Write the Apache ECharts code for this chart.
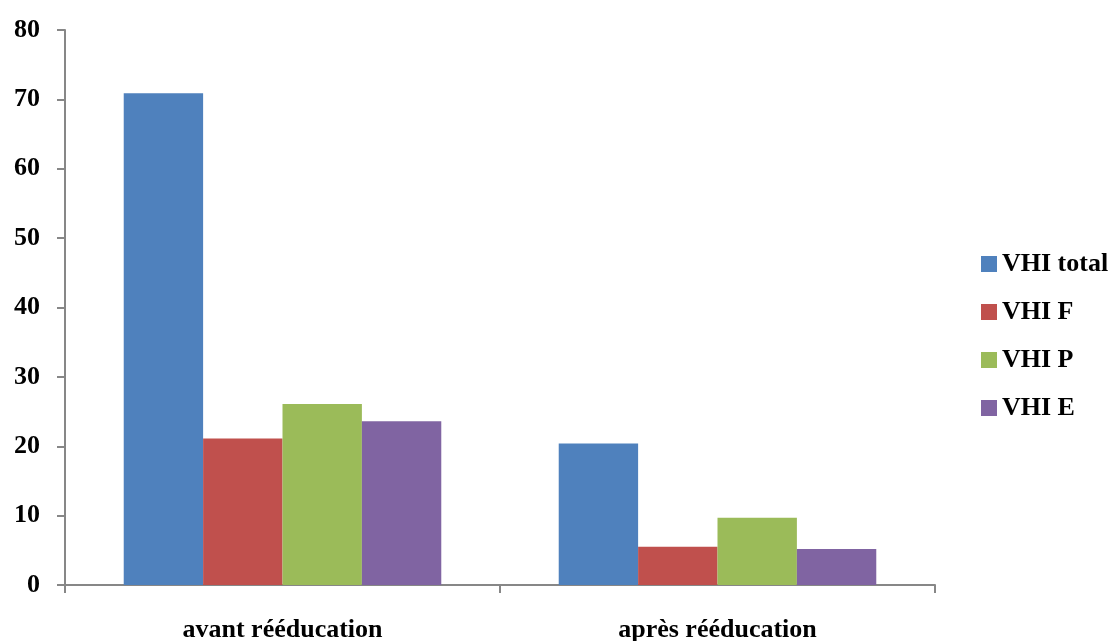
<!DOCTYPE html>
<html>
<head>
<meta charset="utf-8">
<script src="https://cdn.jsdelivr.net/npm/echarts@6/dist/echarts.min.js"></script>
<style>
  html, body { margin: 0; padding: 0; background: #fff; }
  #chart { width: 1112px; height: 641px; }
</style>
</head>
<body>
<div id="chart"></div>
<script>
  const categories = ['avant rééducation', 'après rééducation'];
  const vhiTotal = [70.9, 20.4];
  const vhiF = [21.1, 5.5];
  const vhiP = [26.1, 9.7];
  const vhiE = [23.6, 5.2];
  const yTicks = [0, 10, 20, 30, 40, 50, 60, 70, 80];

  const font = '"Liberation Serif", "DejaVu Serif", serif';
  const axisColor = '#878787';

  function bar(name, data, color) {
    return {
      name: name,
      type: 'bar',
      data: data,
      barGap: '0%',
      barCategoryGap: '27%',
      itemStyle: { color: color },
      animation: false
    };
  }

  const chart = echarts.init(document.getElementById('chart'));
  chart.setOption({
    animation: false,
    grid: { left: 65, right: 177, top: 30, bottom: 56, outerBoundsMode: 'none' },
    legend: {
      orient: 'vertical',
      left: 976,
      top: 246,
      itemWidth: 16,
      itemHeight: 16,
      itemGap: 22,
      icon: 'rect',
      textStyle: { fontFamily: font, fontWeight: 'bold', fontSize: 26, color: '#000' }
    },
    xAxis: {
      type: 'category',
      data: categories,
      axisLine: { lineStyle: { color: axisColor, width: 2 } },
      axisTick: { show: true, length: 8, lineStyle: { color: axisColor, width: 2 } },
      axisLabel: { margin: 32, fontFamily: font, fontWeight: 'bold', fontSize: 26, color: '#000' }
    },
    yAxis: {
      type: 'value',
      min: yTicks[0],
      max: yTicks[yTicks.length - 1],
      interval: yTicks[1] - yTicks[0],
      splitLine: { show: false },
      axisLine: { show: true, lineStyle: { color: axisColor, width: 2 } },
      axisTick: { show: true, length: 8, lineStyle: { color: axisColor, width: 2 } },
      axisLabel: { margin: 25, fontFamily: font, fontWeight: 'bold', fontSize: 26, color: '#000' }
    },
    series: [
      bar('VHI total', vhiTotal, '#4f81bd'),
      bar('VHI F', vhiF, '#c0504d'),
      bar('VHI P', vhiP, '#9bbb59'),
      bar('VHI E', vhiE, '#8064a2')
    ]
  });
</script>
</body>
</html>
